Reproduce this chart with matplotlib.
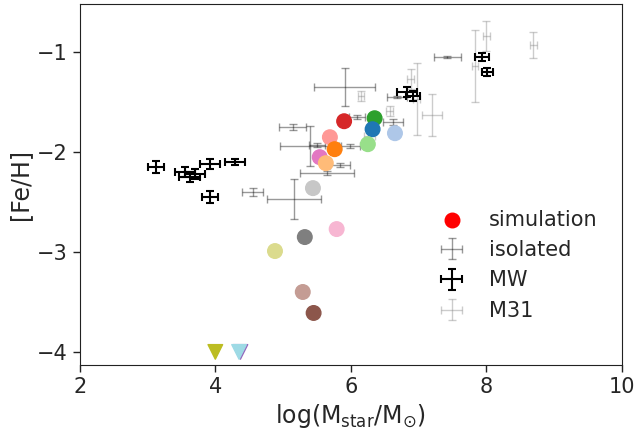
import numpy as np
import matplotlib.pyplot as plt
import seaborn as sns

sns.set_style('ticks')
plt.rcParams['font.family'] = ['DejaVu Sans']

# simulation
sim_x = [5.90, 5.69, 5.76, 5.54, 5.63, 6.35, 6.32, 6.65, 6.25, 5.44, 5.79, 5.32, 4.88, 5.29, 5.45]
sim_y = [-1.69, -1.85, -1.97, -2.05, -2.11, -1.66, -1.77, -1.81, -1.92, -2.36, -2.77, -2.85, -2.99, -3.40, -3.61]
sim_c = ['#d62728', '#ff9896', '#ff7f0e', '#e377c2', '#ffbb78', '#2ca02c', '#1f77b4', '#aec7e8',
         '#98df8a', '#c7c7c7', '#f7b6d2', '#7f7f7f', '#dbdb8d', '#c49c94', '#8c564b']
lim_x = [4.0, 4.37, 4.35]
lim_y = [-4.0, -4.0, -4.0]
lim_c = ['#bcbd22', '#9467bd', '#9edae5']

# isolated
iso_x = [5.91, 5.16, 4.55, 5.14, 5.40, 7.42, 6.68, 6.62, 6.09, 5.98, 5.50, 5.84, 5.65]
iso_y = [-1.35, -2.47, -2.40, -1.75, -1.94, -1.05, -1.45, -1.70, -1.65, -1.94, -1.93, -2.13, -2.21]
iso_xe = [0.45, 0.40, 0.15, 0.20, 0.45, 0.20, 0.15, 0.15, 0.12, 0.15, 0.12, 0.15, 0.40]
iso_ye = [0.19, 0.20, 0.04, 0.03, 0.20, 0.01, 0.01, 0.03, 0.02, 0.02, 0.02, 0.02, 0.02]

# MW
mw_x = [3.12, 3.92, 3.70, 3.92, 4.29, 3.55, 3.62, 7.93, 8.01, 6.83, 6.92]
mw_y = [-2.15, -2.45, -2.22, -2.12, -2.10, -2.20, -2.25, -1.05, -1.20, -1.40, -1.44]
mw_xe = [0.12, 0.12, 0.15, 0.15, 0.15, 0.15, 0.15, 0.10, 0.08, 0.15, 0.10]
mw_ye = [0.06, 0.06, 0.05, 0.05, 0.03, 0.05, 0.05, 0.04, 0.04, 0.05, 0.05]

# M31
m31_x = [8.00, 7.83, 8.69, 6.97, 7.20, 6.15, 6.88, 6.57, 6.27]
m31_y = [-0.84, -1.14, -0.93, -1.47, -1.63, -1.44, -1.27, -1.59, -1.84]
m31_xe = [0.05, 0.05, 0.05, 0.05, 0.15, 0.05, 0.05, 0.05, 0.08]
m31_ye = [0.15, 0.36, 0.13, 0.36, 0.21, 0.05, 0.10, 0.05, 0.05]

fig, ax = plt.subplots(figsize=(6.38, 4.37), dpi=100)

ax.errorbar(m31_x, m31_y, xerr=m31_xe, yerr=m31_ye, fmt='none', ecolor='gray',
            alpha=0.4, capsize=3, elinewidth=1, label='M31')
ax.errorbar(iso_x, iso_y, xerr=iso_xe, yerr=iso_ye, fmt='none', ecolor='black',
            alpha=0.4, capsize=3, elinewidth=1, label='isolated')
ax.errorbar(mw_x, mw_y, xerr=mw_xe, yerr=mw_ye, fmt='none', ecolor='black',
            capsize=3, elinewidth=1.5, capthick=1.5, label='MW')
ax.scatter(sim_x, sim_y, c=sim_c, s=110, zorder=5)
ax.scatter(lim_x, lim_y, c=lim_c, s=110, marker='v', zorder=5)

h_sim = ax.scatter([], [], c='red', s=110, label='simulation')
handles, labels = ax.get_legend_handles_labels()
order = ['simulation', 'isolated', 'MW', 'M31']
hd = dict(zip(labels, handles))
ax.legend([hd[k] for k in order], order, loc='lower right', frameon=False,
          fontsize=15, bbox_to_anchor=(0.99, 0.07))

for s in ax.spines.values():
    s.set_color('#222222')
ax.set_xlim(2, 10)
ax.set_ylim(-4.13, -0.52)
ax.set_xticks([2, 4, 6, 8, 10])
ax.set_yticks([-4, -3, -2, -1])
ax.tick_params(labelsize=15, length=5, width=1, color='#222222', direction='out')
ax.set_xlabel(r'log(M$_{\rm star}$/M$_{\odot}$)', fontsize=17)
ax.set_ylabel('[Fe/H]', fontsize=17)
fig.subplots_adjust(left=0.125, right=0.975, top=0.99, bottom=0.165)
fig.savefig('out.png')
